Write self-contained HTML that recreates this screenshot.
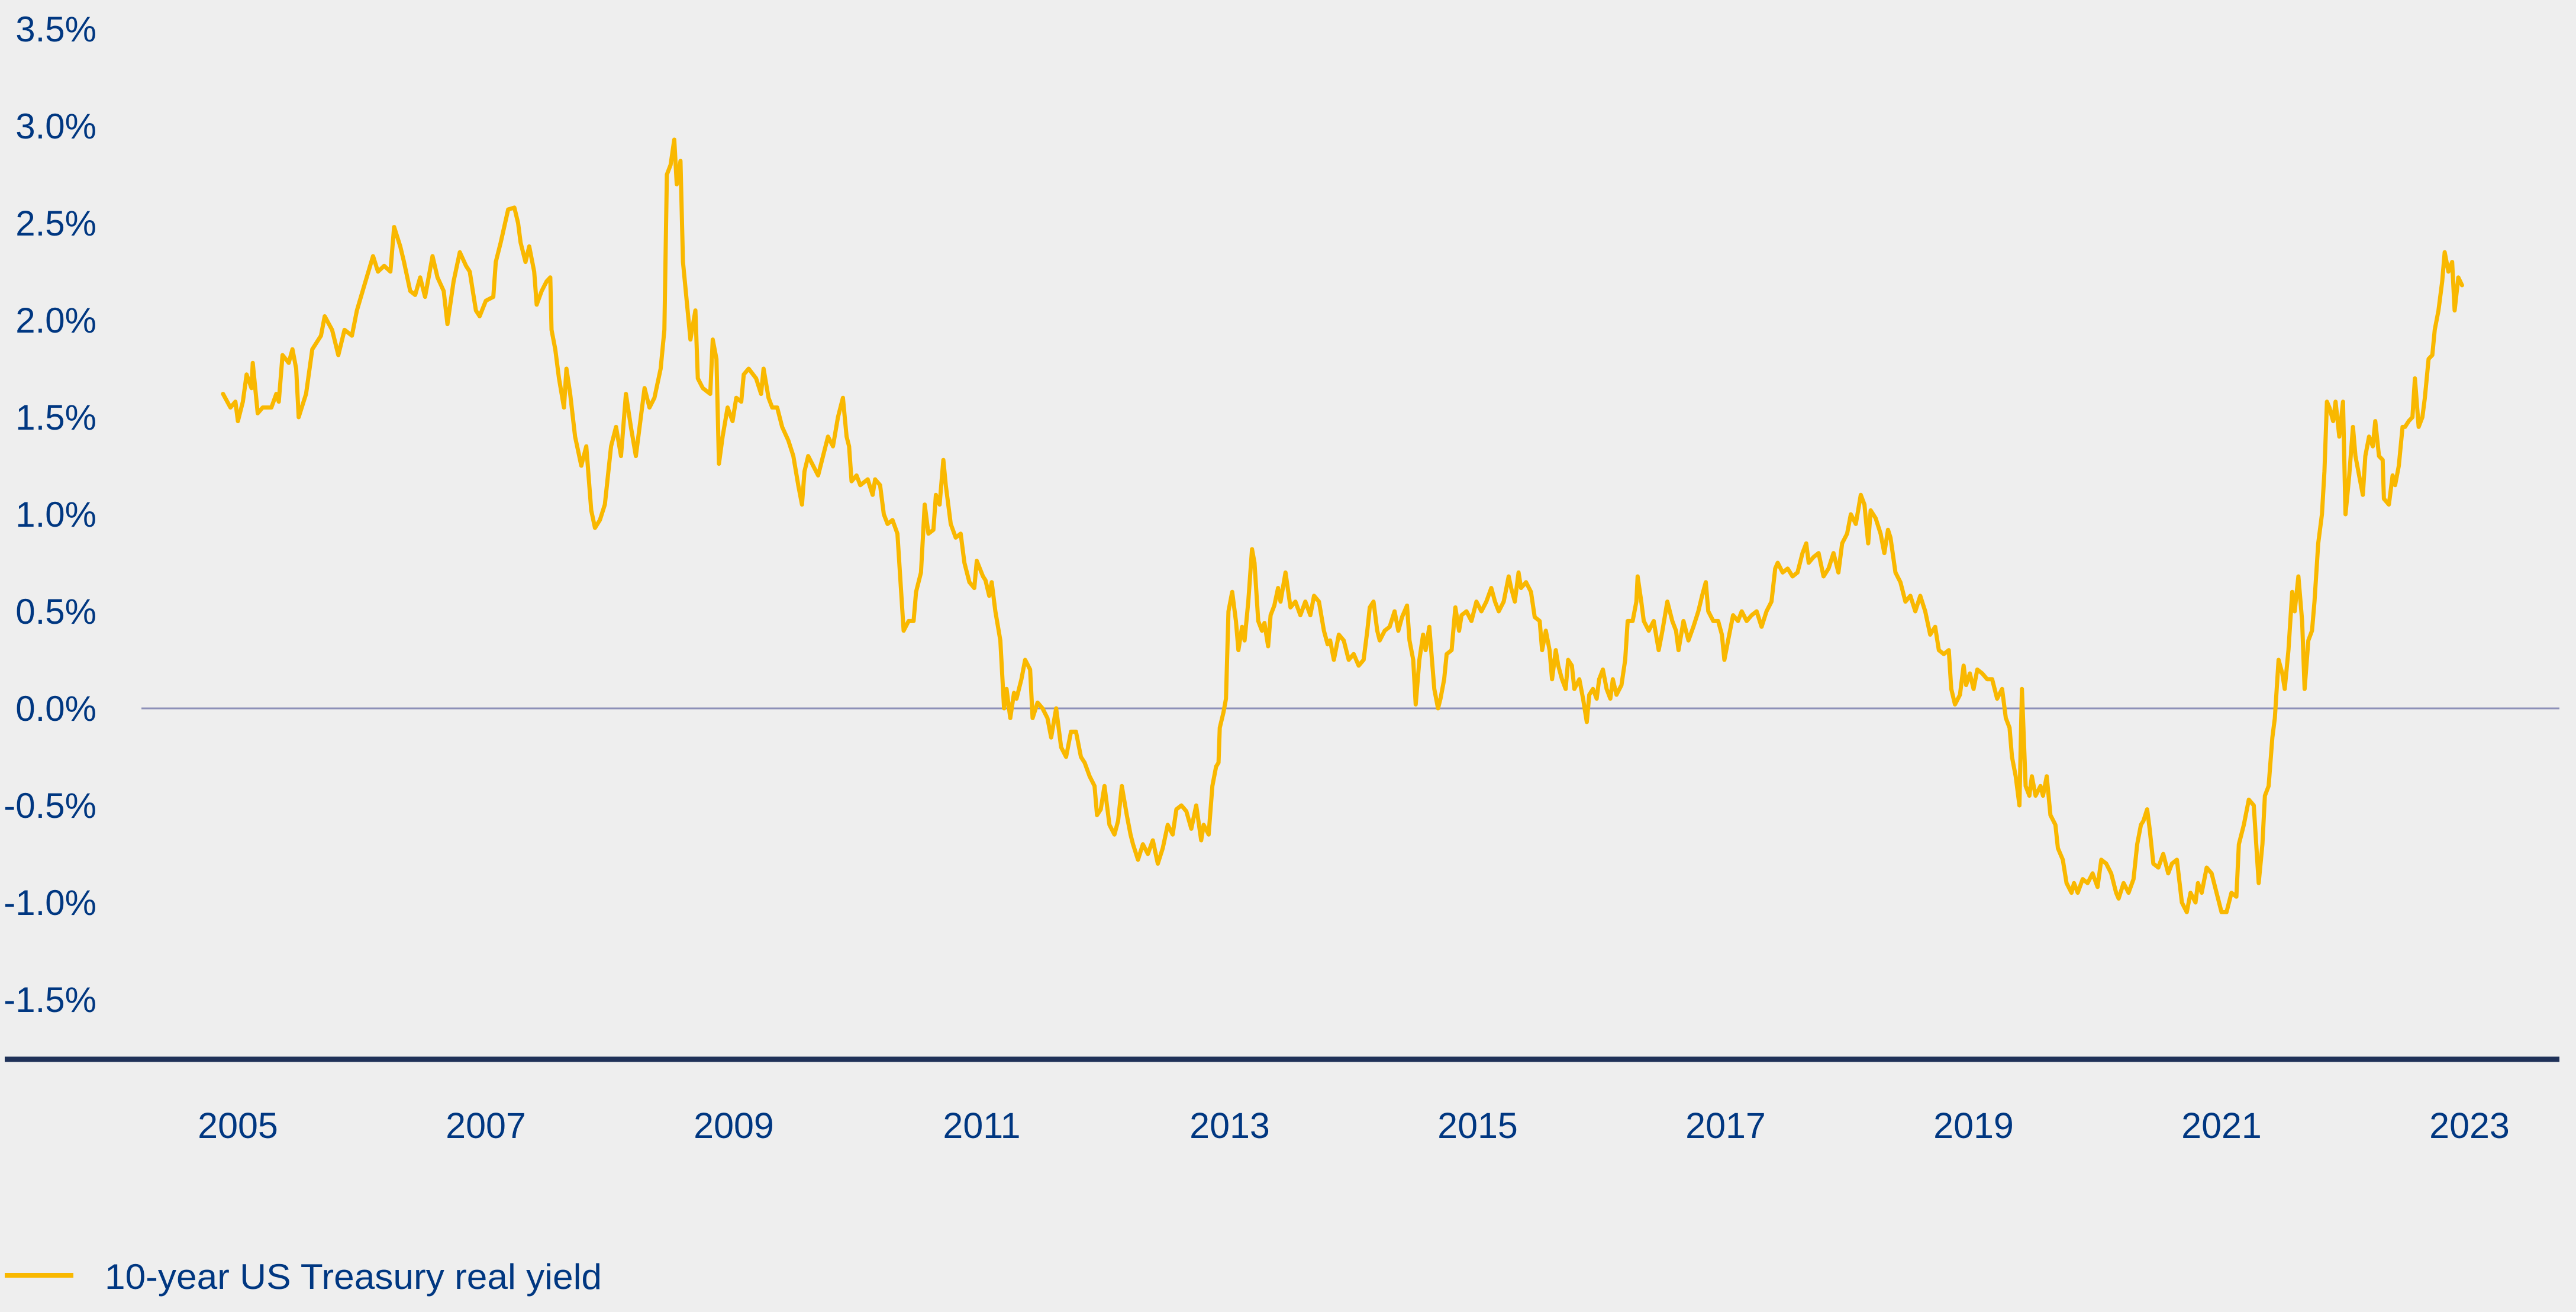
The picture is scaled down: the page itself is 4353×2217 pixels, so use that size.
<!DOCTYPE html>
<html><head><meta charset="utf-8"><style>
html,body{margin:0;padding:0;background:#eeeeee;}
svg{display:block;font-family:"Liberation Sans",sans-serif;}
</style></head><body>
<svg id="chart" width="4353" height="2217" viewBox="0 0 4353 2217" xmlns="http://www.w3.org/2000/svg">
<rect x="0" y="0" width="4353" height="2217" fill="#eeeeee"/>
<g id="yaxis"></g>
<g id="xaxis"></g>
<line x1="239" x2="4325" y1="1197" y2="1197" stroke="#8d90b8" stroke-width="3"/>
<line x1="8" x2="4325" y1="1790" y2="1790" stroke="#1f3158" stroke-width="9"/>
<g id="series"></g>
<g>
<line x1="8" x2="124" y1="2155" y2="2155" stroke="#f9b800" stroke-width="8"/>
<text x="177" y="2178" font-size="60" fill="#003781" textLength="840" lengthAdjust="spacingAndGlyphs">10-year US Treasury real yield</text>
</g>
</svg>
<script>
const yTicks = [3.5, 3.0, 2.5, 2.0, 1.5, 1.0, 0.5, 0.0, -0.5, -1.0, -1.5];
const yTickLabels = ["3.5%","3.0%","2.5%","2.0%","1.5%","1.0%","0.5%","0.0%","-0.5%","-1.0%","-1.5%"];
const xTicks = [2005, 2007, 2009, 2011, 2013, 2015, 2017, 2019, 2021, 2023];
const xTickLabels = ["2005","2007","2009","2011","2013","2015","2017","2019","2021","2023"];
const dates = [
2004.88,2004.94,2004.98,2005.00,2005.04,2005.07,2005.11,2005.12,2005.16,2005.20,2005.27,2005.31,2005.33,2005.36,2005.41,2005.44,2005.47,2005.49,2005.55,2005.60,2005.67,2005.70,2005.76,2005.81,2005.86,2005.92,2005.96,
2006.02,2006.09,2006.13,2006.18,2006.23,2006.26,2006.31,2006.34,2006.39,2006.43,2006.47,2006.51,2006.57,2006.61,2006.66,2006.69,2006.74,2006.79,2006.84,2006.87,2006.92,2006.95,
2007.00,2007.06,2007.08,2007.12,2007.18,2007.23,2007.26,2007.28,2007.32,2007.35,2007.39,2007.41,2007.45,2007.49,2007.52,2007.53,2007.56,2007.59,2007.63,2007.65,2007.68,2007.72,2007.77,2007.81,2007.85,2007.88,2007.92,2007.96,
2008.01,2008.05,2008.09,2008.13,2008.17,2008.21,2008.25,2008.28,2008.32,2008.36,2008.41,2008.44,2008.46,2008.49,2008.52,2008.54,2008.57,2008.59,2008.62,2008.65,2008.69,2008.71,2008.75,2008.81,2008.83,2008.86,2008.88,2008.91,2008.95,
2008.99,2009.02,2009.06,2009.08,2009.12,2009.18,2009.22,2009.24,2009.28,2009.31,2009.35,2009.39,2009.44,2009.48,2009.52,2009.55,2009.57,2009.60,2009.64,2009.68,2009.72,2009.76,2009.80,2009.84,2009.88,2009.91,2009.93,2009.95,2009.99,
2010.02,2010.08,2010.12,2010.14,2010.18,2010.21,2010.24,2010.28,2010.32,2010.34,2010.37,2010.41,2010.45,2010.47,2010.51,2010.54,2010.57,2010.61,2010.63,2010.66,2010.69,2010.71,2010.75,2010.79,2010.83,2010.86,2010.90,2010.94,2010.96,
2011.01,2011.03,2011.06,2011.08,2011.11,2011.15,2011.18,2011.20,2011.23,2011.26,2011.28,2011.32,2011.35,2011.39,2011.41,2011.45,2011.49,2011.53,2011.56,2011.60,2011.64,2011.68,2011.72,2011.76,2011.80,2011.83,2011.87,2011.91,2011.93,2011.96,
2011.99,2012.03,2012.07,2012.10,2012.13,2012.17,2012.20,2012.22,2012.26,2012.30,2012.34,2012.38,2012.42,2012.46,2012.50,2012.54,2012.57,2012.61,2012.65,2012.69,2012.73,2012.77,2012.79,2012.83,2012.86,2012.89,2012.91,2012.92,2012.95,2012.97,
2012.99,2013.02,2013.05,2013.07,2013.10,2013.12,2013.15,2013.18,2013.20,2013.23,2013.26,2013.28,2013.31,2013.33,2013.36,2013.39,2013.41,2013.45,2013.49,2013.53,2013.57,2013.61,2013.65,2013.68,2013.72,2013.76,2013.79,2013.81,2013.84,2013.88,2013.92,2013.96,
2014.00,2014.04,2014.08,2014.11,2014.13,2014.16,2014.19,2014.21,2014.25,2014.29,2014.33,2014.36,2014.39,2014.43,2014.45,2014.48,2014.50,2014.53,2014.56,2014.58,2014.61,2014.65,2014.68,2014.70,2014.73,2014.75,2014.79,2014.82,2014.85,2014.87,2014.91,2014.95,2014.99,
2015.03,2015.07,2015.11,2015.14,2015.17,2015.21,2015.25,2015.27,2015.30,2015.33,2015.35,2015.39,2015.43,2015.46,2015.50,2015.52,2015.55,2015.58,2015.60,2015.63,2015.65,2015.68,2015.71,2015.73,2015.76,2015.78,2015.82,2015.85,2015.88,2015.90,2015.93,2015.96,2015.98,
2016.01,2016.04,2016.07,2016.09,2016.12,2016.16,2016.19,2016.21,2016.25,2016.28,2016.29,2016.32,2016.34,2016.38,2016.42,2016.46,2016.49,2016.53,2016.57,2016.60,2016.62,2016.66,2016.70,2016.74,2016.78,2016.81,2016.84,2016.86,2016.90,2016.94,2016.97,
2016.99,2017.02,2017.06,2017.10,2017.13,2017.17,2017.21,2017.25,2017.29,2017.33,2017.37,2017.40,2017.42,2017.46,2017.50,2017.54,2017.58,2017.62,2017.65,2017.67,2017.71,2017.75,2017.79,2017.83,2017.87,2017.91,2017.94,2017.98,
2018.01,2018.05,2018.09,2018.12,2018.15,2018.17,2018.21,2018.25,2018.28,2018.31,2018.33,2018.37,2018.41,2018.45,2018.49,2018.53,2018.57,2018.61,2018.65,2018.69,2018.72,2018.76,2018.80,2018.82,2018.85,2018.89,2018.92,2018.94,2018.97,
2019.00,2019.03,2019.07,2019.11,2019.15,2019.19,2019.23,2019.26,2019.29,2019.31,2019.34,2019.37,2019.39,2019.42,2019.45,2019.47,2019.50,2019.54,2019.56,2019.59,2019.62,2019.66,2019.68,2019.72,2019.75,2019.79,2019.81,2019.84,2019.88,2019.92,2019.96,
2020.00,2020.03,2020.07,2020.11,2020.15,2020.17,2020.21,2020.25,2020.29,2020.32,2020.35,2020.37,2020.40,2020.42,2020.45,2020.49,2020.53,2020.57,2020.60,2020.64,2020.68,2020.72,2020.75,2020.79,2020.81,2020.84,2020.88,2020.92,2020.96,
2021.00,2021.04,2021.08,2021.12,2021.14,2021.18,2021.22,2021.26,2021.30,2021.33,2021.35,2021.38,2021.41,2021.43,2021.46,2021.49,2021.51,2021.54,2021.57,2021.59,2021.62,2021.65,2021.67,2021.70,2021.73,2021.75,2021.78,2021.81,2021.83,2021.85,2021.87,2021.90,2021.92,2021.95,2021.98,
2022.00,2022.03,2022.06,2022.08,2022.11,2022.14,2022.16,2022.19,2022.22,2022.24,2022.27,2022.30,2022.31,2022.35,2022.38,2022.40,2022.43,2022.46,2022.48,2022.51,2022.54,2022.56,2022.59,2022.62,2022.64,2022.67,2022.70,2022.72,2022.75,2022.78,2022.80,2022.83,2022.86,2022.88,2022.91,2022.94
];
const realYield = [
1.62,1.55,1.58,1.48,1.58,1.72,1.65,1.78,1.52,1.55,1.55,1.62,1.58,1.82,1.78,1.85,1.75,1.50,1.62,1.85,1.92,2.02,1.95,1.82,1.95,1.92,2.05,
2.18,2.33,2.25,2.28,2.25,2.48,2.38,2.30,2.15,2.13,2.22,2.12,2.33,2.22,2.15,1.98,2.20,2.35,2.28,2.25,2.05,2.02,
2.10,2.12,2.30,2.40,2.57,2.58,2.50,2.40,2.30,2.38,2.25,2.08,2.15,2.20,2.22,1.95,1.85,1.70,1.55,1.75,1.62,1.40,1.25,1.35,1.02,0.93,0.97,1.05,
1.35,1.45,1.30,1.62,1.45,1.30,1.50,1.65,1.55,1.60,1.75,1.95,2.75,2.80,2.93,2.70,2.82,2.30,2.10,1.90,2.05,1.70,1.65,1.62,1.90,1.80,1.26,1.40,1.55,
1.48,1.60,1.58,1.72,1.75,1.70,1.62,1.75,1.60,1.55,1.55,1.45,1.38,1.30,1.15,1.05,1.22,1.30,1.25,1.20,1.30,1.40,1.35,1.50,1.60,1.40,1.35,1.17,1.20,
1.15,1.18,1.10,1.18,1.15,1.00,0.95,0.97,0.90,0.70,0.40,0.45,0.45,0.60,0.70,1.05,0.90,0.92,1.10,1.05,1.28,1.15,0.95,0.88,0.90,0.75,0.65,0.62,0.76,
0.68,0.66,0.58,0.65,0.50,0.35,0.00,0.10,-0.05,0.08,0.05,0.15,0.25,0.20,-0.05,0.03,0.00,-0.05,-0.15,0.00,-0.20,-0.25,-0.12,-0.12,-0.25,-0.28,-0.35,-0.40,-0.55,-0.52,
-0.40,-0.60,-0.65,-0.58,-0.40,-0.55,-0.65,-0.70,-0.78,-0.70,-0.75,-0.68,-0.80,-0.72,-0.60,-0.65,-0.52,-0.50,-0.53,-0.62,-0.50,-0.68,-0.60,-0.65,-0.40,-0.30,-0.28,-0.10,-0.02,0.05,
0.50,0.60,0.45,0.30,0.42,0.35,0.55,0.82,0.75,0.45,0.40,0.44,0.32,0.48,0.53,0.62,0.55,0.70,0.52,0.55,0.48,0.55,0.48,0.58,0.55,0.40,0.33,0.35,0.25,0.38,0.35,0.25,
0.28,0.22,0.25,0.40,0.52,0.55,0.40,0.35,0.40,0.42,0.50,0.40,0.47,0.53,0.35,0.25,0.02,0.25,0.38,0.30,0.42,0.10,0.00,0.05,0.15,0.28,0.30,0.52,0.40,0.48,0.50,0.45,0.55,
0.50,0.55,0.62,0.55,0.50,0.55,0.68,0.62,0.55,0.70,0.62,0.65,0.60,0.47,0.45,0.30,0.40,0.30,0.15,0.30,0.22,0.15,0.10,0.25,0.22,0.10,0.15,0.05,-0.07,0.07,0.10,0.05,0.15,
0.20,0.10,0.05,0.15,0.07,0.12,0.25,0.45,0.45,0.55,0.68,0.55,0.45,0.40,0.45,0.30,0.40,0.55,0.45,0.40,0.30,0.45,0.35,0.42,0.50,0.58,0.65,0.50,0.45,0.45,0.38,
0.25,0.35,0.48,0.45,0.50,0.45,0.48,0.50,0.42,0.50,0.55,0.72,0.75,0.70,0.72,0.68,0.70,0.80,0.85,0.75,0.78,0.80,0.68,0.72,0.80,0.70,0.85,0.90,
1.00,0.95,1.10,1.05,0.85,1.02,0.98,0.90,0.80,0.92,0.88,0.70,0.65,0.55,0.58,0.50,0.58,0.50,0.38,0.42,0.30,0.28,0.30,0.10,0.02,0.07,0.22,0.12,0.18,
0.10,0.20,0.18,0.15,0.15,0.05,0.10,-0.05,-0.10,-0.25,-0.35,-0.50,0.10,-0.40,-0.45,-0.35,-0.45,-0.40,-0.45,-0.35,-0.55,-0.60,-0.72,-0.78,-0.90,-0.95,-0.90,-0.95,-0.88,-0.90,-0.85,
-0.92,-0.78,-0.80,-0.85,-0.95,-0.98,-0.90,-0.95,-0.88,-0.70,-0.60,-0.58,-0.52,-0.62,-0.80,-0.82,-0.75,-0.85,-0.80,-0.78,-1.00,-1.05,-0.95,-1.00,-0.90,-0.95,-0.82,-0.85,-0.95,
-1.05,-1.05,-0.95,-0.97,-0.70,-0.60,-0.47,-0.50,-0.90,-0.70,-0.45,-0.40,-0.15,-0.05,0.25,0.18,0.10,0.30,0.60,0.50,0.68,0.45,0.10,0.35,0.40,0.55,0.85,1.00,1.22,1.58,1.55,1.48,1.58,1.40,1.58,
1.00,1.20,1.45,1.30,1.20,1.10,1.30,1.40,1.35,1.48,1.30,1.28,1.08,1.05,1.20,1.15,1.25,1.45,1.45,1.48,1.50,1.70,1.45,1.50,1.60,1.80,1.82,1.95,2.05,2.20,2.35,2.25,2.30,2.05,2.22,2.18
];
const NS = "http://www.w3.org/2000/svg";
function xScale(t){ return 402 + (t - 2005) * 209.5; }
function yScale(v){ return 1197 - v * 328; }
const yaxis = document.getElementById('yaxis');
yTicks.forEach((v, i) => {
  const t = document.createElementNS(NS, 'text');
  
  
  t.setAttribute('x', 163);
  t.setAttribute('y', yScale(v) + 21);
  t.setAttribute('text-anchor', 'end');
  t.setAttribute('font-size', '60');
  t.setAttribute('fill', '#003781');
  t.textContent = yTickLabels[i];
  yaxis.appendChild(t);
});
const xaxis = document.getElementById('xaxis');
xTicks.forEach((yr, i) => {
  const t = document.createElementNS(NS, 'text');
  
  
  t.setAttribute('x', xScale(yr));
  t.setAttribute('y', 1923);
  t.setAttribute('text-anchor', 'middle');
  t.setAttribute('font-size', '61');
  t.setAttribute('fill', '#003781');
  t.textContent = xTickLabels[i];
  xaxis.appendChild(t);
});
const n = Math.min(dates.length, realYield.length);
let d = '';
for (let i = 0; i < n; i++) {
  d += (i ? 'L' : 'M') + xScale(dates[i]).toFixed(1) + ' ' + yScale(realYield[i]).toFixed(1);
}
const path = document.createElementNS(NS, 'path');


path.setAttribute('d', d);
path.setAttribute('fill', 'none');
path.setAttribute('stroke', '#f9b800');
path.setAttribute('stroke-width', '7');
path.setAttribute('stroke-linejoin', 'round');
path.setAttribute('stroke-linecap', 'round');
document.getElementById('series').appendChild(path);
</script>
</body></html>
